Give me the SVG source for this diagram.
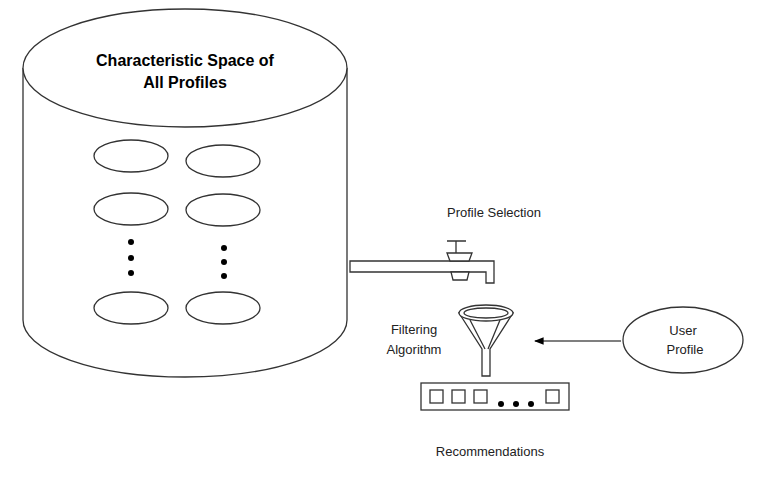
<svg xmlns="http://www.w3.org/2000/svg" width="768" height="477" viewBox="0 0 768 477">
<defs>
<style>
.s{fill:#fff;stroke:#333;stroke-width:1.3}
.n{fill:none;stroke:#333;stroke-width:1.3}
.t{font-family:"Liberation Sans",Arial,sans-serif;font-size:13px;fill:#222;text-anchor:middle}
.b{font-family:"Liberation Sans",Arial,sans-serif;font-size:16px;font-weight:bold;fill:#000;text-anchor:middle}
.d{fill:#000}
</style>
<marker id="ah" viewBox="0 0 10 10" refX="9" refY="5" markerWidth="8" markerHeight="8" orient="auto"><path d="M0,1 L10,5 L0,9 Z" fill="#000"/></marker>
</defs>
<g id="cylinder">
<path class="s" d="M23,68 L23,320 A162,57 0 0 0 347,320 L347,68"/>
<ellipse class="s" cx="185" cy="68" rx="162" ry="59"/>
<text class="b" x="185" y="66">Characteristic Space of</text>
<text class="b" x="185" y="88">All Profiles</text>
<ellipse class="n" cx="131" cy="156" rx="37" ry="16"/>
<ellipse class="n" cx="223" cy="161" rx="37" ry="16"/>
<ellipse class="n" cx="131" cy="209" rx="37" ry="16"/>
<ellipse class="n" cx="223" cy="210" rx="37" ry="16"/>
<ellipse class="n" cx="131" cy="308" rx="37" ry="16"/>
<ellipse class="n" cx="223" cy="308" rx="37" ry="16"/>
<circle class="d" cx="131" cy="242" r="3"/><circle class="d" cx="131" cy="258" r="3"/><circle class="d" cx="131" cy="273" r="3"/>
<circle class="d" cx="224" cy="248" r="3"/><circle class="d" cx="224" cy="262" r="3"/><circle class="d" cx="224" cy="276" r="3"/>
</g>
<g id="tap">
<path class="s" d="M350,261 L494,261 L494,283 L486,283 L486,272 L350,272 Z"/>
<path class="n" d="M447,241 H466 M456,241 V253"/>
<path class="s" d="M447,253 H472 L469,261 H450 Z"/>
<path class="s" d="M451,272 H469 L467,280 H453 Z"/>
<text class="t" x="494" y="217">Profile Selection</text>
</g>
<g id="funnel">
<path class="s" d="M459,313 L482,349 L482,376 L490,376 L490,349 L513,313 Z"/>
<ellipse class="s" cx="486" cy="313" rx="27" ry="8"/>
<ellipse class="n" cx="486" cy="313" rx="22" ry="5"/>
<path class="n" d="M470,320 L485,349 M500,320 L488,349"/>
<text class="t" x="414" y="334">Filtering</text>
<text class="t" x="414" y="354">Algorithm</text>
</g>
<g id="user-profile">
<ellipse class="s" cx="683" cy="340" rx="60" ry="33"/>
<text class="t" x="683" y="335">User</text>
<text class="t" x="685" y="354">Profile</text>
</g>
<g id="recommendations">
<rect class="s" x="421" y="383" width="148" height="27"/>
<rect class="n" x="430" y="390" width="13" height="13"/>
<rect class="n" x="452" y="390" width="13" height="13"/>
<rect class="n" x="474" y="390" width="13" height="13"/>
<rect class="n" x="546" y="390" width="13" height="13"/>
<circle class="d" cx="501" cy="404" r="3"/><circle class="d" cx="516" cy="404" r="3"/><circle class="d" cx="531" cy="404" r="3"/>
<text class="t" x="490" y="456">Recommendations</text>
</g>
<g id="connectors">
<line x1="621" y1="341" x2="535" y2="341" stroke="#000" stroke-width="1.2" marker-end="url(#ah)"/>
</g>
</svg>
